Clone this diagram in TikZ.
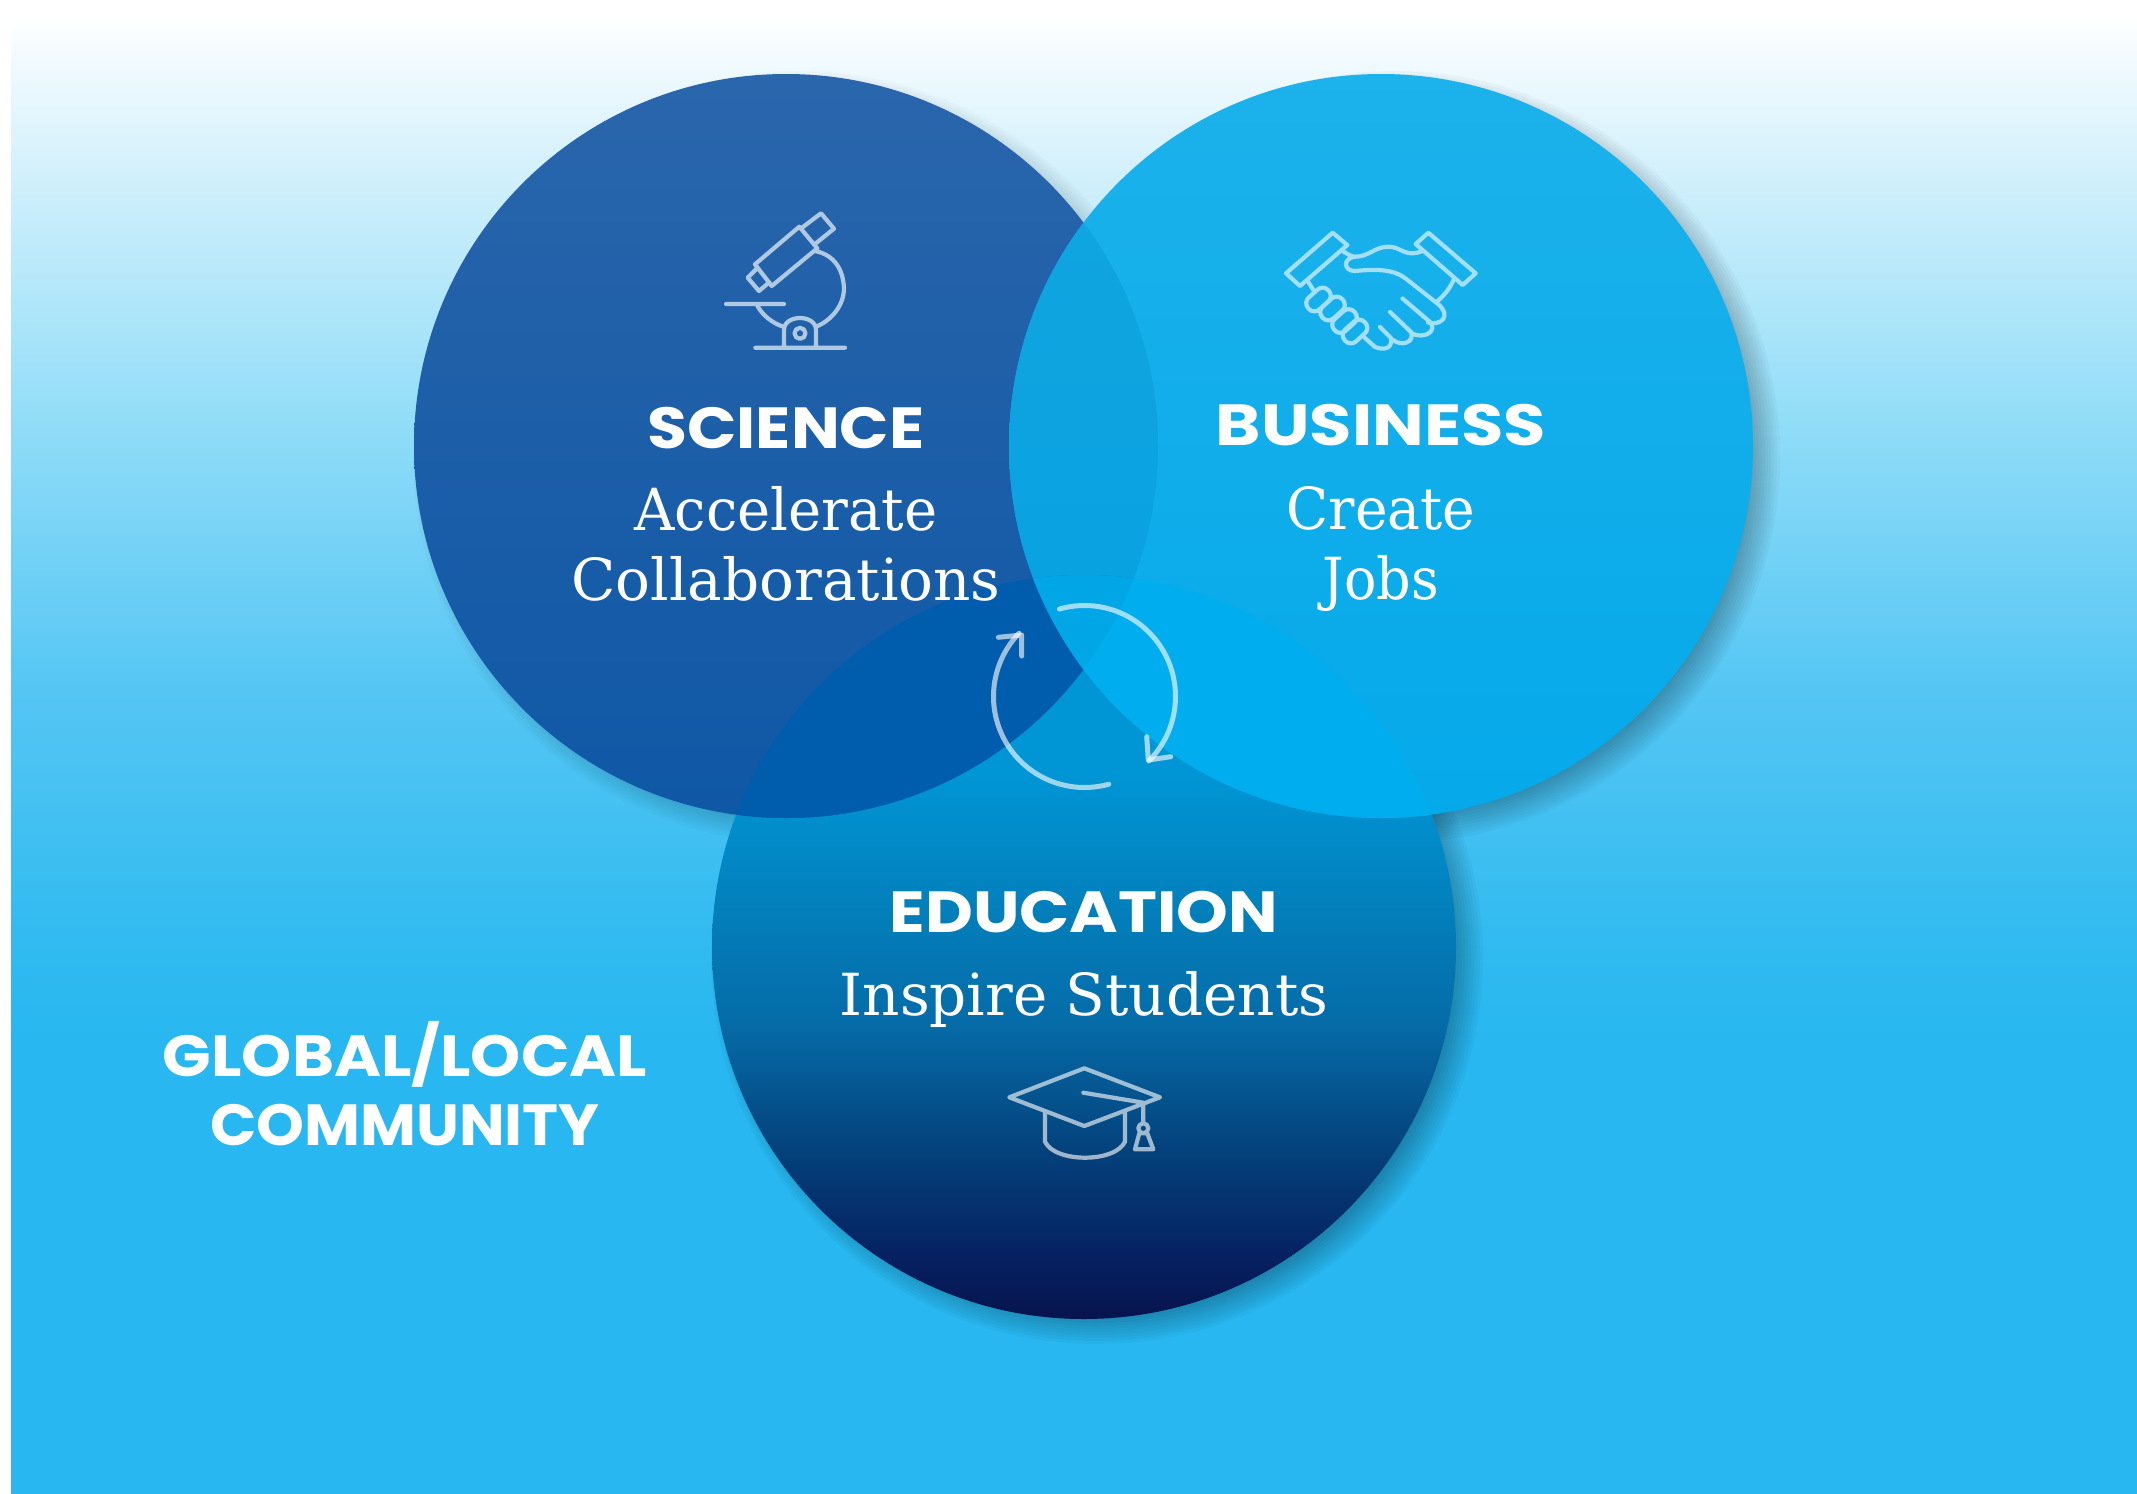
\documentclass[tikz,border=0pt]{standalone}
\usepackage{fontspec}
\newfontfamily\headfont{Poppins}
\newfontfamily\bodyfont{DejaVu Serif}
\definecolor{micro}{HTML}{AFC9E3}
\definecolor{shake}{HTML}{A3E0F7}
\definecolor{c0}{HTML}{FFFFFF}
\definecolor{c1}{HTML}{D8F2FC}
\definecolor{c2}{HTML}{92DDF8}
\definecolor{c3}{HTML}{55C6F4}
\definecolor{c4}{HTML}{2FBAF0}
\definecolor{c5}{HTML}{28B7F0}
\pgfdeclareverticalshading{bgshade}{100bp}{
 color(0bp)=(c5); color(25bp)=(c5); color(40bp)=(c5); color(43bp)=(c4); color(52bp)=(c3); color(61bp)=(c2); color(70bp)=(c1); color(74.5bp)=(c0); color(100bp)=(c0)}
\definecolor{e0}{HTML}{06144E}
\definecolor{e1}{HTML}{062060}
\definecolor{e2}{HTML}{04407A}
\definecolor{e3}{HTML}{056CA8}
\definecolor{e4}{HTML}{0283BF}
\definecolor{e5}{HTML}{0096D6}
\pgfdeclareverticalshading{edushade}{100bp}{
 color(0bp)=(e0); color(25bp)=(e0); color(29bp)=(e1); color(36bp)=(e2); color(45bp)=(e3); color(54bp)=(e4); color(62bp)=(e5); color(75bp)=(e5); color(100bp)=(e5)}
\definecolor{s0}{HTML}{0F58A6}
\definecolor{s1}{HTML}{1C5EA8}
\definecolor{s2}{HTML}{2A66AC}
\pgfdeclareverticalshading{sciShade}{100bp}{
 color(0bp)=(s0); color(25bp)=(s0); color(50bp)=(s1); color(75bp)=(s2); color(100bp)=(s2)}
\definecolor{b0}{HTML}{05A9EA}
\definecolor{b1}{HTML}{1CB2EB}
\pgfdeclareverticalshading{busShade}{100bp}{
 color(0bp)=(b0); color(25bp)=(b0); color(75bp)=(b1); color(100bp)=(b1)}
\definecolor{l0}{HTML}{05A0E2}
\definecolor{l1}{HTML}{12A6DF}
\pgfdeclareverticalshading{lensShade}{100bp}{
 color(0bp)=(l0); color(25bp)=(l0); color(75bp)=(l1); color(100bp)=(l1)}
\definecolor{ovSE}{HTML}{005CAD}
\definecolor{ovBE}{HTML}{00AEEF}
\definecolor{ovAll}{HTML}{00A6E6}
\tikzset{
 headtext/.style={font=\headfont\bfseries\fontsize{58}{60}\selectfont,text=white,inner sep=0pt,anchor=base},
 bodytext/.style={font=\bodyfont\fontsize{58}{60}\selectfont,text=white,inner sep=0pt,anchor=base},
 iconline/.style={line width=4.2pt,line cap=round,line join=round},
 cycleline/.style={line width=5pt,line cap=round,line join=round,draw=white,opacity=.62},
}
\begin{document}
\begin{tikzpicture}[x=1pt,y=-1pt]
\useasboundingbox (0,0) rectangle (2137,1494);
\fill[white] (0,0) rectangle (2137,1494);
\shade[shading=bgshade] (11,0) rectangle (2137,1494);
\coordinate (SC) at (786,446);
\coordinate (BC) at (1381,446);
\coordinate (EC) at (1084,947);
% shadows
\foreach \r in {350,353,...,386}{
 \fill[black,opacity=.026] (1381+13,446+11) circle (\r);
 \fill[black,opacity=.026] (1084+13,947+11) circle (\r);
 \fill[black,opacity=.018] (786+13,446+11) circle (\r);
}
% circles
\shade[shading=edushade] (EC) circle (372);
\shade[shading=sciShade] (SC) circle (372);
\begin{scope}
 \clip (SC) circle (372);
 \foreach \r in {372,368,...,344}{
  \fill[white,opacity=.004,even odd rule] (300,-100) rectangle (1300,1000) (796,456) circle (\r);
 }
\end{scope}
\shade[shading=busShade] (BC) circle (372);
% overlaps
\begin{scope}
 \clip (SC) circle (372);
 \shade[shading=lensShade] (BC) circle (372);
\end{scope}
\begin{scope}
 \clip (EC) circle (372);
 \fill[ovSE] (SC) circle (372);
 \fill[ovBE] (BC) circle (372);
 \clip (SC) circle (372);
 \fill[ovAll] (BC) circle (372);
\end{scope}
% texts
\node[headtext] (sciH) at (786,448) {\scalebox{1.12}[1]{SCIENCE}};
\node[bodytext] (sciA) at (786,530) {\scalebox{.965}[1]{Accelerate}};
\node[bodytext] (sciB) at (786,600) {Collaborations};
\node[headtext] (busH) at (1381,445) {\scalebox{1.187}[1]{BUSINESS}};
\node[bodytext] (busA) at (1381,529) {\scalebox{.95}[1]{Create}};
\node[bodytext] (busB) at (1381,599) {\scalebox{.93}[1]{Jobs}};
\node[headtext] (eduH) at (1084,932) {\scalebox{1.136}[1]{EDUCATION}};
\node[bodytext] (eduA) at (1084,1015) {Inspire Students};
\node[headtext] (gloA) at (405,1076) {\scalebox{1.10}[1]{GLOBAL/LOCAL}};
\node[headtext] (gloB) at (405,1145) {\scalebox{1.05}[1]{COMMUNITY}};
% microscope
\draw[iconline,draw=micro]
 (799.3,226.7) -- (817.3,248.3) -- (771.7,286) -- (755,264.3) -- cycle
 (802,227.7) -- (821,213.3) -- (834,228.7) -- (815,244)
 (756,269.3) -- (747.7,277.7) -- (759,291) -- (769.3,282.3)
 (726,304) -- (784,304)
 (755.3,347.7) -- (845,347.7)
 (815,251) .. controls (835,255) and (843,270) .. (844,288) .. controls (844,305) and (832,320) .. (816.5,326.5)
 (757,305) .. controls (762,315) and (772,323) .. (784,327)
 (784,347.7) -- (784,330) .. controls (784,314) and (816,314) .. (816,330) -- (816,347.7)
 (800,333.3) circle (5.5);
% handshake
\draw[iconline,draw=shake]
 (1332.7,232.7) -- (1347.3,245) -- (1300,286) -- (1286,273.3) -- cycle
 (1428.3,232.7) -- (1475.7,273.3) -- (1462.7,285) -- (1415.7,244) -- cycle
 (1341.7,250.7) .. controls (1347,253) and (1350,256.7) .. (1355,256.7)
 .. controls (1368,257) and (1375,246.7) .. (1388.3,246.7)
 .. controls (1398,246.7) and (1403,253.3) .. (1411.7,253.3)
 .. controls (1416,253.3) and (1420,252) .. (1423.3,250.7)
 (1355,256.7) .. controls (1343,258) and (1343,271) .. (1355,271)
 .. controls (1375,269) and (1393,269) .. (1405,278)
 -- (1438,304) .. controls (1452,316) and (1441,326) .. (1428,322.5)
 (1402.5,298.5) -- (1430,322) .. controls (1438,331) and (1424,340) .. (1411,333)
 (1390,312) -- (1411,332) .. controls (1415,342) and (1402,347) .. (1393,340)
 (1380,327) -- (1391,338) .. controls (1393,350) and (1382,350) .. (1375,347) -- (1365,338)
 (1454.3,278.3) .. controls (1450,288) and (1445,295) .. (1436.7,301.7)
 (1307.7,281) -- (1313.3,290);
\foreach \cx/\cy in {1318.5/299.5,1332.5/308.5,1344.5/321,1355/331.5}{
 \begin{scope}[shift={(\cx,\cy)},rotate=42]
  \draw[iconline,draw=shake,rounded corners=7.5pt] (-13.5,-8) rectangle (13.5,8);
 \end{scope}
}
% cap
\draw[iconline,draw=white,opacity=.62]
 (1084.3,1068.3) -- (1160,1097.3) -- (1084.3,1126) -- (1009.3,1097.3) -- cycle
 (1083.3,1092.7) -- (1143.3,1102.7) -- (1143.3,1123)
 (1143.3,1128.3) circle (5)
 (1139.3,1133.3) -- (1147.3,1133.3) -- (1153.3,1149.3) -- (1135,1149.3) -- cycle
 (1045,1111.7) -- (1045,1141.7) .. controls (1055,1163) and (1115,1163) .. (1125,1141.7) -- (1125,1111.7);
% cycle arrows
\draw[cycleline] plot[domain=106:-45,samples=70] ({1084.5+91*cos(\x)},{696.5-91*sin(\x)});
\draw[cycleline] (1146.7,736.7) -- (1148.3,760) -- (1170.7,756.7);
\draw[cycleline] plot[domain=-74.5:-224,samples=70] ({1084.5+91*cos(\x)},{696.5-91*sin(\x)});
\draw[cycleline] (998.3,637.3) -- (1021.7,635) -- (1021.7,656);
\end{tikzpicture}
\end{document}
